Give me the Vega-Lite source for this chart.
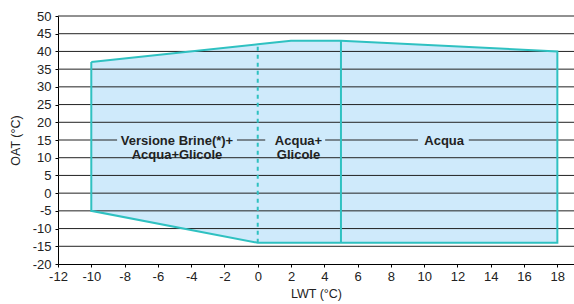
{
  "$schema": "https://vega.github.io/schema/vega-lite/v6.json",
  "width": 516,
  "height": 248,
  "autosize": {"type": "none"},
  "padding": {"left": 58, "top": 16, "right": 0, "bottom": 40},
  "config": {"view": {"stroke": null}, "font": "Liberation Sans", "axis": {"labelOverlap": false, "labelFlush": false}},
  "datasets": {
    "area": [
      {"x": -10, "top": 37, "bottom": -5},
      {"x": 0, "top": 42, "bottom": -14},
      {"x": 2, "top": 43, "bottom": -14},
      {"x": 5, "top": 43, "bottom": -14},
      {"x": 18, "top": 40, "bottom": -14}
    ],
    "outline": [
      {"o": 1, "x": -10, "y": 37},
      {"o": 2, "x": 0, "y": 42},
      {"o": 3, "x": 2, "y": 43},
      {"o": 4, "x": 5, "y": 43},
      {"o": 5, "x": 18, "y": 40},
      {"o": 6, "x": 18, "y": -14},
      {"o": 7, "x": 5, "y": -14},
      {"o": 8, "x": 0, "y": -14},
      {"o": 9, "x": -10, "y": -5},
      {"o": 10, "x": -10, "y": 37}
    ],
    "grid": [
      {"y": -15}, {"y": -10}, {"y": -5}, {"y": 0}, {"y": 5}, {"y": 10}, {"y": 15},
      {"y": 20}, {"y": 25}, {"y": 30}, {"y": 35}, {"y": 40}, {"y": 45}, {"y": 50}
    ],
    "labels": [
      {"x": -4.85, "y": 14.6, "text": ["Versione Brine(*)+", "Acqua+Glicole"], "bx1": -8.45, "bx2": -1.25, "by1": 11.3, "by2": 18.7},
      {"x": 2.45, "y": 14.7, "text": ["Acqua+", "Glicole"], "bx1": 0.45, "bx2": 4.05, "by1": 11.3, "by2": 18.7},
      {"x": 11.2, "y": 14.8, "text": "Acqua", "bx1": 9.63, "bx2": 12.68, "by1": 13, "by2": 17}
    ]
  },
  "layer": [
    {
      "data": {"name": "area"},
      "mark": {"type": "area", "color": "#cfeafb", "opacity": 1},
      "encoding": {
        "x": {
          "field": "x", "type": "quantitative",
          "scale": {"domain": [-12, 19], "nice": false, "zero": false},
          "axis": {
            "values": [-12, -10, -8, -6, -4, -2, 0, 2, 4, 6, 8, 10, 12, 14, 16, 18],
            "tickCount": 40,
            "labelExpr": "'' + datum.value",
            "labelOverlap": false,
            "grid": false, "title": "LWT (°C)",
            "domainColor": "#000", "tickColor": "#000", "tickSize": 3,
            "labelFontSize": 13, "labelColor": "#222", "labelPadding": 3,
            "titleFontSize": 12.5, "titleFontWeight": "normal", "titleColor": "#222", "titlePadding": 4
          }
        },
        "y": {
          "field": "top", "type": "quantitative",
          "scale": {"domain": [-20, 50], "nice": false, "zero": false},
          "axis": {
            "values": [-20, -15, -10, -5, 0, 5, 10, 15, 20, 25, 30, 35, 40, 45, 50],
            "tickCount": 40,
            "labelExpr": "'' + datum.value",
            "labelOverlap": false,
            "grid": false, "title": "OAT (°C)",
            "domainColor": "#000", "tickColor": "#000", "tickSize": 3,
            "labelFontSize": 13, "labelColor": "#222", "labelPadding": 4,
            "titleFontSize": 12.5, "titleFontWeight": "normal", "titleColor": "#222", "titlePadding": 10
          }
        },
        "y2": {"field": "bottom"}
      }
    },
    {
      "data": {"name": "grid"},
      "mark": {"type": "rule", "color": "#222", "strokeWidth": 1},
      "encoding": {"y": {"field": "y", "type": "quantitative"}}
    },
    {
      "data": {"name": "outline"},
      "mark": {"type": "line", "color": "#2fc1c1", "strokeWidth": 2},
      "encoding": {
        "x": {"field": "x", "type": "quantitative"},
        "y": {"field": "y", "type": "quantitative"},
        "order": {"field": "o", "type": "quantitative"}
      }
    },
    {
      "data": {"values": [{"x": 5, "y1": -14, "y2": 43}]},
      "mark": {"type": "rule", "color": "#2fc1c1", "strokeWidth": 2},
      "encoding": {
        "x": {"field": "x", "type": "quantitative"},
        "y": {"field": "y1", "type": "quantitative"},
        "y2": {"field": "y2"}
      }
    },
    {
      "data": {"values": [{"x": 0, "y1": -14, "y2": 42}]},
      "mark": {"type": "rule", "color": "#2fc1c1", "strokeWidth": 2, "strokeDash": [4, 4]},
      "encoding": {
        "x": {"field": "x", "type": "quantitative"},
        "y": {"field": "y1", "type": "quantitative"},
        "y2": {"field": "y2"}
      }
    },
    {
      "data": {"name": "labels"},
      "mark": {"type": "rect", "color": "#cfeafb"},
      "encoding": {
        "x": {"field": "bx1", "type": "quantitative"},
        "x2": {"field": "bx2"},
        "y": {"field": "by1", "type": "quantitative"},
        "y2": {"field": "by2"}
      }
    },
    {
      "data": {"name": "labels"},
      "mark": {"type": "text", "font": "Liberation Sans", "fontSize": 13, "fontWeight": "bold", "color": "#222", "baseline": "middle", "align": "center", "lineHeight": 14},
      "encoding": {
        "x": {"field": "x", "type": "quantitative"},
        "y": {"field": "y", "type": "quantitative"},
        "text": {"field": "text"}
      }
    }
  ]
}
